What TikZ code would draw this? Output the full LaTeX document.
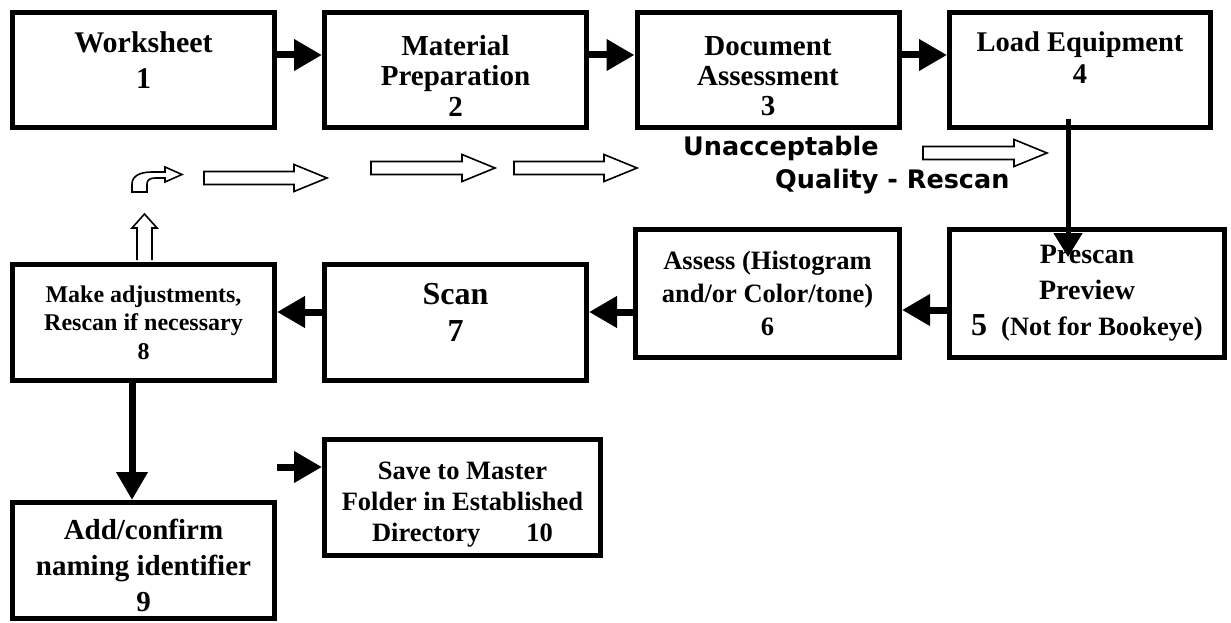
\documentclass[tikz,border=0pt]{standalone}
\usepackage{fontspec}
\setmainfont{Liberation Serif}
\newfontfamily\notefont{DejaVu Sans}
\usetikzlibrary{arrows.meta,positioning}

\newcommand\stepfont[2]{\bfseries\fontsize{#1}{#2}\selectfont}
\newcommand\lifttext[1]{\rule[-#1]{0pt}{#1}}
\newcommand\droptext[1]{\rule{0pt}{#1}}

\begin{document}
\begin{tikzpicture}[x=1pt,y=-1pt,
  box/.style={draw, line width=5pt, align=center, inner sep=0pt, minimum width=262pt, minimum height=116pt},
  flow/.style={line width=7pt, -{Triangle[length=28pt,width=30pt]}},
  note/.style={font=\notefont\bfseries\fontsize{25.5}{30}\selectfont, anchor=base west, inner sep=0pt},
  hollow/.style={draw, line width=1.6pt, fill=white, line join=miter},
  pics/blockarrow/.style={code={
    \draw[hollow] (0,-6.5) -- (#1-33,-6.5) -- (#1-33,-13.5) -- (#1,0) -- (#1-33,13.5) -- (#1-33,6.5) -- (0,6.5) -- cycle;}}]

\useasboundingbox (0,0) rectangle (1231,623);

% first row

\node[box, minimum height=115pt, font=\stepfont{30}{36}] (work) at (143.5,70) {Worksheet\\1\lifttext{20pt}};
\node[box, minimum height=115pt, font=\stepfont{29}{30.5}] (prep) at (455.5,70) {\droptext{32pt}Material\\Preparation\\2};
\node[box, minimum height=115pt, font=\stepfont{29}{30}] (docass) at (768,70) {\droptext{32pt}Document\\Assessment\\3};
\node[box, minimum height=115pt, minimum width=261pt, font=\stepfont{28.5}{32}] (load) at (1080,70) {Load Equipment\\4\lifttext{24pt}};

% second row

\node[box, minimum width=275pt, minimum height=128pt, font=\stepfont{28}{36}] (prescan) at (1087,293.5)
  {Prescan\\Preview\\{\fontsize{32}{36}\selectfont 5}\hspace{14pt}{\fontsize{26.5}{36}\selectfont (Not for Bookeye)}};
\node[box, minimum width=264pt, minimum height=128pt, font=\stepfont{26.5}{33}] (hist) at (767.5,293.5) {Assess (Histogram\\and/or Color/tone)\\6};
\node[box, font=\stepfont{32}{37}] (scan) at (455.5,322.5) {Scan\\7\lifttext{20pt}};
\node[box, font=\stepfont{24}{28.5}] (adjust) at (143.5,322.5) {Make adjustments,\\Rescan if necessary\\8};

% last row

\node[box, font=\stepfont{29}{36}] (naming) at (143.5,560.5) {\droptext{31pt}Add/confirm\\naming identifier\\9};
\node[box, minimum width=276pt, font=\stepfont{26.5}{31}] (save) at (462.5,497.5) {\droptext{32pt}Save to Master\\Folder in Established\\Directory\hspace{46pt}10};

% rescan note

\node[note] (unacc) at (683,155) {Unacceptable};
\node[note] (rescan) at (775,188) {Quality - Rescan};

% hollow arrows

\draw[hollow] (132,192) -- (132,184) .. controls (132,176) and (140,172) .. (152,172) -- (165,172) -- (165,167)
  -- (182,174.5) -- (165,182) -- (165,178) -- (155,178) .. controls (150,178) and (147,180) .. (147,184) -- (147,192) -- cycle;
\pic at (204,178) {blockarrow=123};
\pic at (371,168) {blockarrow=124};
\pic at (514,168) {blockarrow=123};
\pic at (923,153) {blockarrow=124};
\draw[hollow] (137,260) -- (137,228) -- (132,228) -- (144.5,214) -- (157,228) -- (152,228) -- (152,260);

% connectors

\draw[flow] ([yshift=15pt]work.east) -- ([yshift=15pt]prep.west);
\draw[flow] ([yshift=15pt]prep.east) -- ([yshift=15pt]docass.west);
\draw[flow] ([yshift=15pt]docass.east) -- ([yshift=15pt]load.west);
\draw[line width=5pt, -{Triangle[length=24pt,width=28pt]}] ([xshift=-12pt,yshift=11pt]load.south) -- ([xshift=-19pt,yshift=-30pt]prescan.north);
\draw[flow] ([yshift=-16.5pt]prescan.west) -- ([yshift=-16.5pt]hist.east);
\draw[flow] ([yshift=-18.5pt]hist.west) -- ([yshift=10.5pt]scan.east);
\draw[flow] ([yshift=10.5pt]scan.west) -- ([yshift=10.5pt]adjust.east);
\draw[flow] ([xshift=-11.5pt]adjust.south) -- ([xshift=-11.5pt]naming.north);
\coordinate (savefrom) at (277,467);
\draw[flow] (savefrom) -- ([yshift=30.5pt]save.west);
\end{tikzpicture}
\end{document}
